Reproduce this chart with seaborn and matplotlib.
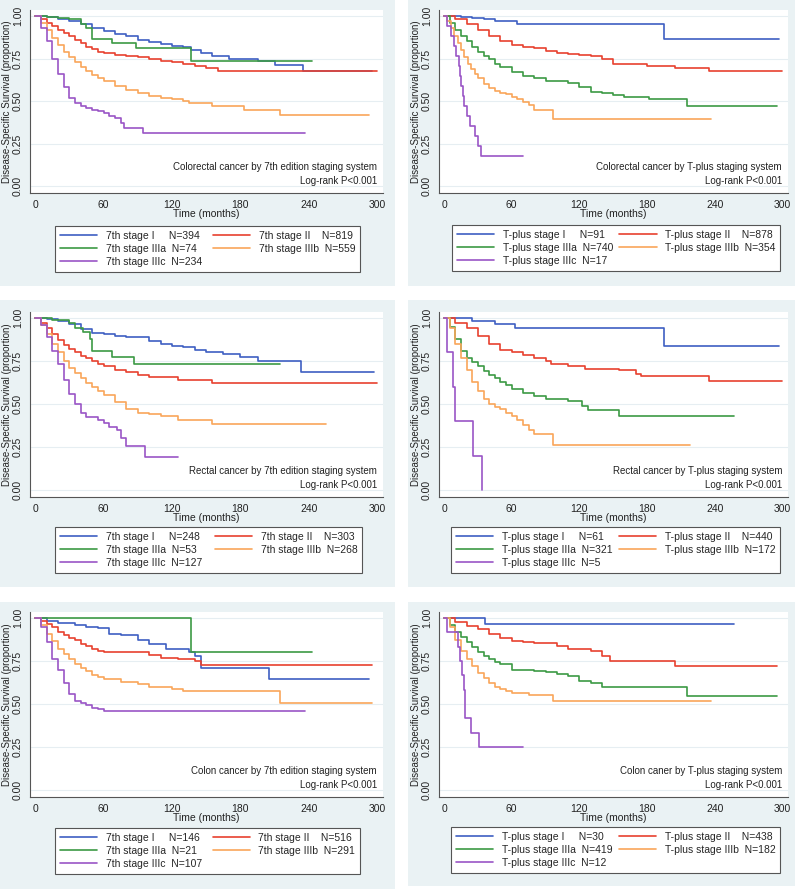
import matplotlib.pyplot as plt
import seaborn as sns
import pandas as pd
from matplotlib.patches import Rectangle

# ---- data: Kaplan-Meier curves (time in months, survival) ----
STAGES = ["I", "II", "IIIa", "IIIb", "IIIc"]

# Colorectal, 7th edition
crc7_I_t = [0, 10, 20, 30, 40, 50, 60, 70, 80, 90, 100, 110, 120, 130, 137, 145, 155, 170, 195, 210, 235, 295]
crc7_I_s = [1, .995, .985, .97, .95, .93, .91, .895, .88, .86, .845, .835, .825, .815, .80, .78, .765, .75, .735, .71, .675, .675]
crc7_II_t = [0, 5, 10, 15, 20, 25, 30, 35, 40, 45, 50, 55, 60, 70, 80, 90, 100, 110, 120, 130, 140, 150, 160, 300]
crc7_II_s = [1, .98, .96, .94, .92, .90, .88, .86, .84, .82, .805, .79, .78, .77, .765, .757, .745, .738, .732, .715, .705, .697, .678, .678]
crc7_IIIa_t = [0, 10, 20, 30, 40, 45, 50, 67, 88, 137, 243]
crc7_IIIa_s = [1, .995, .99, .98, .955, .93, .865, .843, .81, .736, .736]
crc7_IIIb_t = [0, 5, 10, 15, 20, 25, 30, 35, 40, 45, 50, 55, 60, 70, 80, 90, 100, 110, 120, 130, 135, 155, 183, 215, 293]
crc7_IIIb_s = [1, .96, .92, .87, .83, .79, .76, .73, .70, .675, .655, .635, .615, .59, .565, .545, .53, .52, .51, .50, .49, .47, .45, .42, .42]
crc7_IIIc_t = [0, 5, 10, 15, 20, 25, 30, 35, 40, 45, 50, 55, 60, 65, 70, 75, 78, 95, 237]
crc7_IIIc_s = [1, .93, .85, .75, .66, .58, .52, .49, .47, .46, .45, .44, .43, .41, .40, .37, .344, .311, .311]
crc7_n = [394, 819, 74, 559, 234]

# Colorectal, T-plus
crcT_I_t = [0, 15, 25, 35, 45, 65, 195, 297]
crcT_I_s = [1, .995, .99, .98, .97, .951, .863, .863]
crcT_II_t = [0, 10, 20, 30, 40, 50, 60, 70, 80, 90, 100, 110, 120, 130, 140, 150, 160, 180, 205, 235, 300]
crcT_II_s = [1, .98, .95, .915, .88, .855, .832, .82, .81, .795, .78, .775, .772, .765, .745, .72, .715, .708, .696, .677, .677]
crcT_IIIa_t = [0, 5, 10, 15, 20, 25, 30, 35, 40, 45, 50, 60, 70, 80, 90, 100, 110, 120, 130, 140, 150, 160, 182, 215, 295]
crcT_IIIa_s = [1, .96, .92, .88, .85, .82, .79, .765, .745, .72, .70, .67, .65, .635, .62, .615, .605, .58, .555, .545, .535, .525, .51, .474, .474]
crcT_IIIb_t = [0, 3, 6, 9, 12, 15, 18, 21, 24, 27, 30, 35, 40, 45, 50, 55, 60, 65, 70, 75, 80, 97, 237]
crcT_IIIb_s = [1, .97, .93, .88, .84, .80, .76, .72, .69, .66, .635, .60, .575, .56, .55, .54, .525, .51, .495, .475, .445, .396, .396]
crcT_IIIc_t = [0, 3, 6, 9, 11, 13, 14, 15, 17, 18, 20, 23, 27, 30, 33, 70]
crcT_IIIc_s = [1, .941, .882, .824, .765, .706, .647, .588, .529, .471, .412, .353, .294, .235, .176, .176]
crcT_n = [91, 878, 740, 354, 17]

# Rectal, 7th edition
rec7_I_t = [0, 10, 20, 30, 40, 50, 60, 70, 80, 90, 100, 110, 120, 130, 140, 150, 165, 180, 195, 233, 297]
rec7_I_s = [1, .995, .985, .965, .935, .915, .906, .895, .89, .887, .865, .85, .84, .83, .815, .80, .79, .775, .75, .688, .688]
rec7_II_t = [0, 5, 10, 15, 20, 25, 30, 35, 40, 45, 50, 55, 60, 70, 80, 90, 100, 110, 120, 125, 155, 300]
rec7_II_s = [1, .97, .94, .91, .87, .845, .82, .80, .78, .765, .75, .735, .72, .70, .685, .67, .66, .66, .655, .64, .624, .624]
rec7_IIIa_t = [0, 15, 30, 35, 42, 48, 50, 67, 87, 215]
rec7_IIIa_s = [1, .99, .97, .94, .92, .88, .811, .775, .733, .733]
rec7_IIIb_t = [0, 5, 10, 15, 20, 25, 30, 35, 40, 45, 50, 55, 60, 70, 80, 90, 100, 110, 125, 155, 255]
rec7_IIIb_s = [1, .96, .91, .85, .80, .75, .71, .68, .65, .62, .60, .575, .55, .51, .47, .45, .44, .43, .405, .384, .384]
rec7_IIIc_t = [0, 5, 10, 15, 20, 25, 30, 35, 40, 45, 55, 60, 65, 72, 75, 80, 96, 125]
rec7_IIIc_s = [1, .96, .89, .81, .73, .64, .56, .50, .45, .425, .41, .39, .365, .35, .30, .255, .195, .195]
rec7_n = [248, 303, 53, 268, 127]

# Rectal, T-plus
recT_I_t = [0, 25, 45, 63, 195, 297]
recT_I_s = [1, .984, .967, .941, .839, .839]
recT_II_t = [0, 10, 20, 30, 40, 50, 60, 70, 80, 90, 95, 110, 125, 155, 170, 175, 235, 300]
recT_II_s = [1, .97, .94, .895, .85, .815, .80, .785, .77, .75, .73, .72, .705, .70, .675, .665, .633, .633]
recT_IIIa_t = [0, 5, 10, 15, 20, 25, 30, 35, 40, 45, 50, 55, 60, 70, 80, 90, 110, 122, 128, 155, 257]
recT_IIIa_s = [1, .95, .88, .81, .77, .745, .72, .695, .67, .65, .63, .61, .59, .565, .545, .53, .52, .49, .465, .433, .433]
recT_IIIb_t = [0, 5, 10, 15, 20, 25, 30, 35, 40, 45, 50, 55, 60, 65, 70, 75, 80, 97, 218]
recT_IIIb_s = [1, .94, .85, .77, .70, .63, .575, .53, .50, .485, .47, .45, .43, .41, .38, .35, .325, .265, .265]
recT_IIIc_t = [0, 3, 8, 10, 26, 34]
recT_IIIc_s = [1, .8, .6, .4, .2, 0.0]
recT_n = [61, 440, 321, 172, 5]

# Colon, 7th edition
col7_I_t = [0, 10, 20, 35, 45, 55, 65, 75, 90, 100, 115, 135, 140, 145, 205, 293]
col7_I_s = [1, .98, .97, .96, .95, .94, .91, .90, .87, .85, .82, .80, .78, .709, .645, .645]
col7_II_t = [0, 5, 10, 15, 20, 25, 30, 35, 40, 45, 50, 55, 60, 90, 100, 110, 125, 140, 145, 295]
col7_II_s = [1, .985, .965, .945, .92, .90, .885, .87, .85, .835, .82, .81, .805, .80, .785, .77, .76, .75, .728, .728]
col7_IIIa_t = [0, 137, 243]
col7_IIIa_s = [1, .80, .80]
col7_IIIb_t = [0, 5, 10, 15, 20, 25, 30, 35, 40, 45, 50, 55, 60, 75, 90, 100, 120, 130, 215, 295]
col7_IIIb_s = [1, .96, .91, .865, .82, .79, .76, .735, .71, .69, .67, .655, .645, .63, .615, .60, .59, .575, .508, .508]
col7_IIIc_t = [0, 5, 10, 15, 20, 25, 30, 35, 40, 45, 50, 55, 60, 237]
col7_IIIc_s = [1, .95, .86, .76, .70, .62, .56, .52, .505, .495, .48, .47, .462, .462]
col7_n = [146, 516, 21, 291, 107]

# Colon, T-plus
colT_I_t = [0, 36, 257]
colT_I_s = [1, .966, .966]
colT_II_t = [0, 10, 20, 30, 40, 50, 60, 70, 80, 100, 110, 130, 140, 147, 205, 295]
colT_II_s = [1, .975, .955, .935, .91, .885, .865, .86, .855, .84, .82, .81, .78, .752, .72, .72]
colT_IIIa_t = [0, 5, 10, 15, 20, 25, 30, 35, 40, 45, 50, 60, 70, 80, 90, 100, 110, 120, 130, 140, 215, 295]
colT_IIIa_s = [1, .96, .92, .89, .86, .83, .80, .78, .76, .745, .73, .70, .70, .69, .685, .675, .665, .635, .62, .60, .545, .545]
colT_IIIb_t = [0, 5, 10, 15, 20, 25, 30, 35, 40, 45, 50, 55, 60, 75, 97, 237]
colT_IIIb_s = [1, .95, .87, .81, .76, .72, .68, .65, .625, .60, .585, .575, .565, .55, .52, .52]
colT_IIIc_t = [0, 3, 12, 14, 16, 18, 19, 24, 31, 70]
colT_IIIc_s = [1, .917, .833, .75, .667, .583, .417, .333, .25, .25]
colT_n = [30, 438, 419, 182, 12]

titles = [
    "Colorectal cancer by 7th edition staging system",
    "Colorectal cancer by T-plus staging system",
    "Rectal cancer by 7th edition staging system",
    "Rectal cancer by T-plus staging system",
    "Colon cancer by 7th edition staging system",
    "Colon caner by T-plus staging system",
]
prefixes = ["7th stage", "T-plus stage", "7th stage", "T-plus stage", "7th stage", "T-plus stage"]

COLORS = ["#3e5fc2", "#e8412f", "#3c9a44", "#f9a65a", "#9a55c6"]
BG = "#eaf2f4"
W, H = 800, 889


def frame(prefix, curves):
    rows = []
    for stage, (t, s) in zip(STAGES, curves):
        for ti, si in zip(t, s):
            rows.append({"time": ti, "surv": si, "stage": f"{prefix} {stage}"})
    return pd.DataFrame(rows)


panels = [
    [(crc7_I_t, crc7_I_s), (crc7_II_t, crc7_II_s), (crc7_IIIa_t, crc7_IIIa_s), (crc7_IIIb_t, crc7_IIIb_s), (crc7_IIIc_t, crc7_IIIc_s)],
    [(crcT_I_t, crcT_I_s), (crcT_II_t, crcT_II_s), (crcT_IIIa_t, crcT_IIIa_s), (crcT_IIIb_t, crcT_IIIb_s), (crcT_IIIc_t, crcT_IIIc_s)],
    [(rec7_I_t, rec7_I_s), (rec7_II_t, rec7_II_s), (rec7_IIIa_t, rec7_IIIa_s), (rec7_IIIb_t, rec7_IIIb_s), (rec7_IIIc_t, rec7_IIIc_s)],
    [(recT_I_t, recT_I_s), (recT_II_t, recT_II_s), (recT_IIIa_t, recT_IIIa_s), (recT_IIIb_t, recT_IIIb_s), (recT_IIIc_t, recT_IIIc_s)],
    [(col7_I_t, col7_I_s), (col7_II_t, col7_II_s), (col7_IIIa_t, col7_IIIa_s), (col7_IIIb_t, col7_IIIb_s), (col7_IIIc_t, col7_IIIc_s)],
    [(colT_I_t, colT_I_s), (colT_II_t, colT_II_s), (colT_IIIa_t, colT_IIIa_s), (colT_IIIb_t, colT_IIIb_s), (colT_IIIc_t, colT_IIIc_s)],
]
counts = [crc7_n, crcT_n, rec7_n, recT_n, col7_n, colT_n]

sns.set_style("white")
plt.rcParams["font.family"] = ["Liberation Sans", "DejaVu Sans"]


def fig_box(l, t, r, b):
    return [l / W, 1 - b / H, (r - l) / W, (b - t) / H]


# pixel layout (left, top, right, bottom)
bg_boxes = [(0, 0, 395, 286), (408, 0, 795, 286), (0, 300, 395, 587),
            (408, 300, 795, 587), (0, 602, 395, 889), (408, 602, 795, 886)]
ax_boxes = [(30, 10, 383, 193), (439, 10, 788, 193), (30, 312, 383, 497),
            (439, 312, 788, 497), (30, 612, 383, 797), (439, 612, 788, 797)]
leg_boxes = [(55, 226, 360, 273), (452, 225, 780, 272), (55, 527, 362, 575),
             (451, 527, 780, 574), (55, 828, 360, 876), (451, 827, 780, 875)]

fig = plt.figure(figsize=(8, 8.89), dpi=100)

for k in range(6):
    l, t, r, b = bg_boxes[k]
    fig.add_artist(Rectangle((l / W, 1 - b / H), (r - l) / W, (b - t) / H,
                             transform=fig.transFigure, facecolor=BG,
                             edgecolor="none", zorder=-1))
    ax = fig.add_axes(fig_box(*ax_boxes[k]))
    ax.set_facecolor("white")

    df = frame(prefixes[k], panels[k])
    order = [f"{prefixes[k]} {s}" for s in STAGES]
    sns.lineplot(data=df, x="time", y="surv", hue="stage", hue_order=order,
                 palette=COLORS, estimator=None, sort=False,
                 drawstyle="steps-post", linewidth=1.2, legend=False, ax=ax)

    ax.set_xlim(-4.5, 305)
    ax.set_ylim(-0.04, 1.035)
    ax.set_xticks([0, 60, 120, 180, 240, 300])
    ax.set_yticks([0, 0.25, 0.5, 0.75, 1.0])
    ax.set_yticklabels(["0.00", "0.25", "0.50", "0.75", "1.00"])
    ax.grid(axis="y", color="#e6eef2", linewidth=0.8)
    ax.grid(axis="x", visible=False)
    for side in ["top", "right"]:
        ax.spines[side].set_visible(False)
    for side in ["left", "bottom"]:
        ax.spines[side].set_color("#555555")
        ax.spines[side].set_linewidth(0.8)
    ax.tick_params(axis="both", direction="out", length=3, width=0.7,
                   color="#555555", labelsize=7.5, pad=2, labelcolor="#222222")
    ax.tick_params(axis="y", labelrotation=90)
    for lab in ax.get_yticklabels():
        lab.set_va("center")
    ax.set_xlabel("Time (months)", fontsize=7.5, labelpad=-1, color="#222222")
    ax.set_ylabel("Disease-Specific Survival (proportion)", fontsize=7,
                  labelpad=1, color="#222222")

    ax.text(0.983, 0.17, titles[k] + "\nLog-rank P<0.001", transform=ax.transAxes,
            ha="right", va="top", multialignment="right", fontsize=7,
            linespacing=1.5, color="#222222")

    # legend, two columns filled row-wise
    lines = ax.get_lines()[:5]
    names = [f"{prefixes[k]} {s}" for s in STAGES]
    pad = max(len(n) for n in names)
    labels = [n + " " * (pad - len(n) + 2) + f"N={c}" for n, c in zip(names, counts[k])]
    idx = [0, 2, 4, 1, 3]
    l, t, r, b = leg_boxes[k]
    leg = ax.legend([lines[i] for i in idx], [labels[i] for i in idx], ncol=2,
                    mode="expand", loc="upper left",
                    bbox_to_anchor=(l / W, 1 - t / H, (r - l) / W, 0),
                    bbox_transform=fig.transFigure, borderaxespad=0,
                    fontsize=7.5, handlelength=3.6, handletextpad=0.8,
                    labelspacing=0.3, borderpad=0.45, fancybox=False,
                    framealpha=1, edgecolor="#555555", columnspacing=1.0)
    leg.get_frame().set_linewidth(0.8)

plt.savefig("out.png", dpi=100)
